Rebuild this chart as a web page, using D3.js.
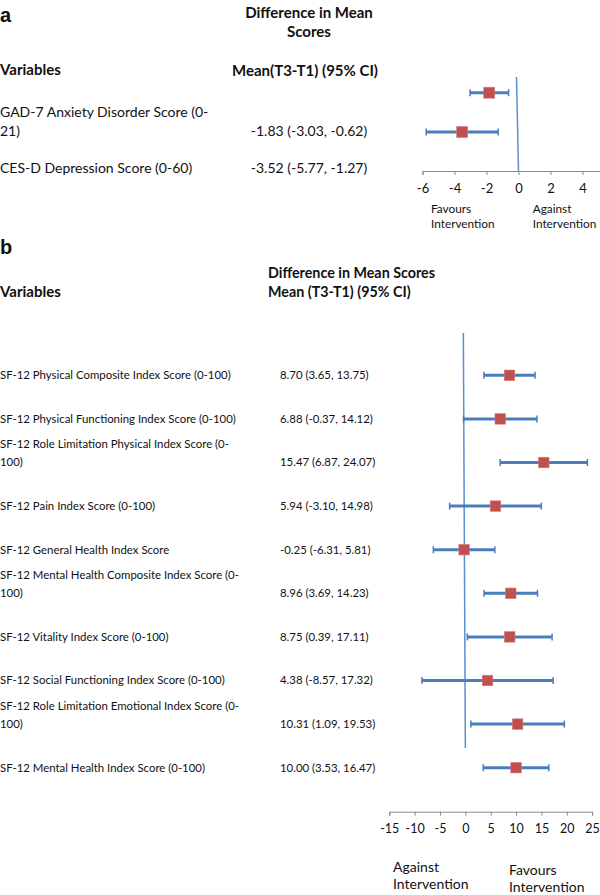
<!DOCTYPE html>
<html lang="en">
<head>
    <meta charset="UTF-8">
    <script src="https://cdnjs.cloudflare.com/ajax/libs/d3/7.8.5/d3.min.js"></script>
    <title>Forest plot</title>
<style>
    body{
        margin: 0;
        background: white;
        font-family: Lato, 'Open Sans', sans-serif;
    }
    svg text{
        fill: #111;
    }
    .panel{
        font-family: 'Liberation Sans', Arial, sans-serif;
        font-weight: bold;
        font-size: 20px;
    }
    .head{
        font-weight: bold;
        font-size: 15px;
    }
    .headB{
        font-weight: bold;
        font-size: 14.3px;
    }
    .axisGrey path, .axisGrey line{
        stroke: #8c8c8c;
    }
    .axisGrey text{
        fill: #111;
        font-family: Lato, sans-serif;
    }
</style>
</head>
<body>
<svg></svg>
<script>
    // panel a
    const aLabels = [['GAD-7 Anxiety Disorder Score (0-', '21)'], ['CES-D Depression Score (0-60)']]
    const aMean = [-1.83, -3.52]
    const aLow = [-3.03, -5.77]
    const aHigh = [-0.62, -1.27]
    const aTicks = [-6, -4, -2, 0, 2, 4]

    // panel b
    const bLabels = [
        ['SF-12 Physical Composite Index Score (0-100)'],
        ['SF-12 Physical Functioning Index Score (0-100)'],
        ['SF-12 Role Limitation Physical Index Score (0-', '100)'],
        ['SF-12 Pain Index Score (0-100)'],
        ['SF-12 General Health Index Score'],
        ['SF-12 Mental Health Composite Index Score (0-', '100)'],
        ['SF-12 Vitality Index Score (0-100)'],
        ['SF-12 Social Functioning Index Score (0-100)'],
        ['SF-12 Role Limitation Emotional Index Score (0-', '100)'],
        ['SF-12 Mental Health Index Score (0-100)']
    ]
    const bMean = [8.70, 6.88, 15.47, 5.94, -0.25, 8.96, 8.75, 4.38, 10.31, 10.00]
    const bLow = [3.65, -0.37, 6.87, -3.10, -6.31, 3.69, 0.39, -8.57, 1.09, 3.53]
    const bHigh = [13.75, 14.12, 24.07, 14.98, 5.81, 14.23, 17.11, 17.32, 19.53, 16.47]
    const bTicks = [-15, -10, -5, 0, 5, 10, 15, 20, 25]

    const w = 600, h = 895
    const blue = '#4a7ebb', red = '#c0504d'
    const fmt = (m, lo, hi) => m.toFixed(2) + ' (' + lo.toFixed(2) + ', ' + hi.toFixed(2) + ')'

    const svg = d3.select('svg')
        .attr('width', w)
        .attr('height', h)

    function forest(opt){
        const rows = opt.labels.map((l, i) => ({ lines: l, m: opt.mean[i], lo: opt.low[i], hi: opt.high[i], i: i }))
        const idx = rows.map(d => d.i)

        const xScale = d3.scaleLinear().domain(opt.domain).range(opt.xRange)
        const yPlot = d3.scalePoint().domain(idx).range(opt.plotY)
        const yText = d3.scalePoint().domain(idx).range(opt.textY)

        const g = svg.append('g')

        // labels column
        rows.forEach(d => {
            const n = d.lines.length
            d.lines.forEach((line, k) => {
                g.append('text')
                    .attr('x', 0)
                    .attr('y', yText(d.i) - (n - 1 - k) * opt.lineH)
                    .attr('dy', '0.35em')
                    .style('font-size', opt.fs + 'px')
                    .text(line)
            })
            g.append('text')
                .attr('x', opt.valX)
                .attr('y', yText(d.i))
                .attr('dy', '0.35em')
                .attr('text-anchor', opt.valAnchor)
                .style('font-size', opt.fs + 'px')
                .text(fmt(d.m, d.lo, d.hi))
        })

        // zero line
        g.append('line')
            .attr('x1', xScale(0) - 2).attr('x2', xScale(0))
            .attr('y1', opt.zeroY[0]).attr('y2', opt.zeroY[1])
            .attr('stroke', '#5b8fd0')
            .attr('stroke-width', 1.5)

        // CI lines
        g.selectAll('.ci')
            .data(rows)
            .enter()
            .append('line')
            .attr('x1', d => xScale(d.lo))
            .attr('x2', d => xScale(d.hi))
            .attr('y1', d => yPlot(d.i))
            .attr('y2', d => yPlot(d.i))
            .attr('stroke', blue)
            .attr('stroke-width', 3)

        // caps
        rows.forEach(d => {
            [d.lo, d.hi].forEach(v => {
                g.append('line')
                    .attr('x1', xScale(v)).attr('x2', xScale(v))
                    .attr('y1', yPlot(d.i) - 3.5).attr('y2', yPlot(d.i) + 3.5)
                    .attr('stroke', blue)
                    .attr('stroke-width', 1.5)
            })
        })

        // markers
        g.selectAll('.mk')
            .data(rows)
            .enter()
            .append('rect')
            .attr('x', d => xScale(d.m) - opt.sq / 2)
            .attr('y', d => yPlot(d.i) - opt.sq / 2)
            .attr('width', opt.sq)
            .attr('height', opt.sq)
            .attr('fill', red)
            .attr('stroke', '#d77a78')
            .attr('stroke-width', 0.6)

        // axis
        const axis = d3.axisBottom(xScale)
            .tickValues(opt.ticks)
            .tickSize(4)
            .tickSizeOuter(4)
            .tickPadding(opt.tickPad)
            .tickFormat(d => String(d))

        g.append('g')
            .attr('transform', 'translate(0,' + opt.axisY + ')')
            .attr('class', 'axisGrey')
            .style('font-size', opt.tickFs + 'px')
            .call(axis)

        // favours labels
        opt.notes.forEach(n => {
            n.lines.forEach((line, k) => {
                g.append('text')
                    .attr('x', n.x)
                    .attr('y', n.y + k * opt.noteH)
                    .attr('dy', '0.35em')
                    .style('font-size', opt.noteFs + 'px')
                    .text(line)
            })
        })
    }

    // titles
    svg.append('text').attr('class', 'panel').attr('x', 0).attr('y', 22).text('a')
    svg.append('text').attr('class', 'head').attr('x', 309).attr('y', 13).attr('dy', '0.35em').attr('text-anchor', 'middle').text('Difference in Mean')
    svg.append('text').attr('class', 'head').attr('x', 309).attr('y', 32).attr('dy', '0.35em').attr('text-anchor', 'middle').text('Scores')
    svg.append('text').attr('class', 'head').attr('x', 0).attr('y', 70).attr('dy', '0.35em').text('Variables')
    svg.append('text').attr('class', 'head').attr('x', 305).attr('y', 71).attr('dy', '0.35em').attr('text-anchor', 'middle').text('Mean(T3-T1) (95% CI)')

    forest({
        labels: aLabels, mean: aMean, low: aLow, high: aHigh, ticks: aTicks,
        domain: [-6, 6], xRange: [422.5, 614.5],
        plotY: [92.7, 132], textY: [130.7, 168.3], lineH: 19,
        fs: 14, valX: 309, valAnchor: 'middle',
        zeroY: [77, 171], axisY: 171, tickPad: 9, tickFs: 13,
        sq: 11,
        notes: [{ x: 431, y: 208.7, lines: ['Favours', 'Intervention'] },
                { x: 532.7, y: 208.7, lines: ['Against', 'Intervention'] }],
        noteH: 15.5, noteFs: 11.8
    })

    svg.append('text').attr('class', 'panel').attr('x', 0).attr('y', 254).text('b')
    svg.append('text').attr('class', 'headB').attr('x', 268).attr('y', 273).attr('dy', '0.35em').text('Difference in Mean Scores')
    svg.append('text').attr('class', 'headB').attr('x', 268).attr('y', 292).attr('dy', '0.35em').text('Mean (T3-T1) (95% CI)')
    svg.append('text').attr('class', 'head').attr('x', 0).attr('y', 292).attr('dy', '0.35em').text('Variables')

    forest({
        labels: bLabels, mean: bMean, low: bLow, high: bHigh, ticks: bTicks,
        domain: [-15, 25], xRange: [389.3, 592.1],
        plotY: [375.3, 767.7], textY: [375.3, 767.7], lineH: 18,
        fs: 11.4, valX: 280, valAnchor: 'start',
        zeroY: [333, 748], axisY: 811.7, tickPad: 8, tickFs: 12.5,
        sq: 10.5,
        notes: [{ x: 393, y: 867, lines: ['Against', 'Intervention'] },
                { x: 509, y: 870, lines: ['Favours', 'Intervention'] }],
        noteH: 17.5, noteFs: 14
    })
</script>
</body>
</html>
